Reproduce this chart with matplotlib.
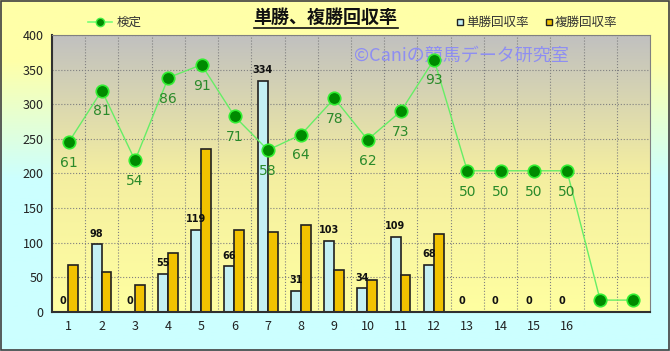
import matplotlib.pyplot as plt
import numpy as np
from matplotlib.lines import Line2D
from matplotlib.colors import LinearSegmentedColormap

plt.rcParams['font.family'] = ['Noto Sans CJK JP', 'DejaVu Sans']

# data
cats = [str(i) for i in range(1, 17)] + ['', '']
tansho = [0, 98, 0, 55, 119, 66, 334, 31, 103, 34, 109, 68, 0, 0, 0, 0, None, None]
fukusho = [68, 58, 39, 85, 235, 118, 116, 126, 60, 46, 53, 113, 0, 0, 0, 0, None, None]
kentei = [61, 81, 54, 86, 91, 71, 58, 64, 78, 62, 73, 93, 50, 50, 50, 50, 0, 0]
kentei_labels = [str(v) for v in kentei[:16]] + ['', '']

W, H = 670, 351
fig = plt.figure(figsize=(W / 100, H / 100), dpi=100)

# figure background gradient (yellow top -> cyan bottom)
bg = fig.add_axes([0, 0, 1, 1], zorder=-10)
bg_cmap = LinearSegmentedColormap.from_list(
    'bg', [(0, '#ccffff'), (0.49, '#ccffff'), (0.83, '#ffffa8'), (1, '#ffffa8')])
bg.imshow(np.linspace(0, 1, 256).reshape(-1, 1)[::-1], cmap=bg_cmap, aspect='auto',
          extent=[0, 1, 0, 1], origin='upper')
bg.axis('off')
bg.add_patch(plt.Rectangle((0.001, 0.002), 0.997, 0.995, fill=False, ec='#404040', lw=1.2,
                           transform=bg.transAxes))

ax = fig.add_axes([52 / W, 1 - 312 / H, 598 / W, 277 / H])
x = np.arange(1, len(cats) + 1)
ax.set_xlim(0.5, len(cats) + 0.5)
ax.set_ylim(0, 400)

# plot area gradient (gray top -> light yellow bottom)
pa_cmap = LinearSegmentedColormap.from_list('pa', ['#ffffa0', '#f4eea0', '#c0c0c0'])
ax.imshow(np.linspace(0, 1, 256).reshape(-1, 1)[::-1], cmap=pa_cmap, aspect='auto',
          extent=[0.5, len(cats) + 0.5, 0, 400], origin='upper', zorder=0)

ax.set_axisbelow(True)
ax.set_yticks(np.arange(0, 401, 50))
ax.set_xticks(x)
ax.set_xticklabels(cats)
ax.set_xticks(np.arange(1.5, len(cats), 1), minor=True)
ax.grid(True, which='minor', axis='x', color='#808080', ls=':', lw=0.8)
ax.grid(True, which='major', axis='y', color='#808080', ls=':', lw=0.8)
ax.tick_params(length=0, labelsize=9, colors='#222222', pad=6)
ax.tick_params(which='minor', length=0)
for s in ['top', 'right']:
    ax.spines[s].set_color('#808080')
    ax.spines[s].set_linewidth(0.8)
for s in ['left', 'bottom']:
    ax.spines[s].set_color('#303030')
    ax.spines[s].set_linewidth(1.5)

n = 16
bw = 0.3
ax.bar(x[:n] - 0.16, tansho[:n], bw, color='#c4f0f4', edgecolor='#202020', lw=1.2, zorder=2)
ax.bar(x[:n] + 0.14, fukusho[:n], bw, color='#f2c200', edgecolor='#202020', lw=1.2, zorder=2)
for xi, v in zip(x[:n], tansho[:n]):
    ax.annotate(str(v), (xi - 0.16, v), xytext=(0, 4), textcoords='offset points',
                ha='center', va='bottom', fontsize=7, fontweight='bold', color='#111111',
                family='DejaVu Sans')

# watermark
ax.text(0.684, 0.925, '©Caniの競馬データ研究室', transform=ax.transAxes, ha='center',
        va='center', fontsize=13, color='#8e8ef2', zorder=1)

ax2 = ax.twinx()
ax2.set_ylim(-4.6, 102.5)
ax2.set_yticks([])
for s in ax2.spines.values():
    s.set_visible(False)
ax2.plot(x, kentei, color='#66ee66', lw=1, marker='o', ms=9, mfc='#008a00', mec='#33ee33',
         mew=1.2, zorder=3)
for xi, v, lab in zip(x, kentei, kentei_labels):
    if lab:
        ax2.annotate(lab, (xi, v), xytext=(0, -15), textcoords='offset points', ha='center',
                     va='center', fontsize=10, color='#2a8a2a', family='DejaVu Sans')

# title with underline
fig.text(325 / W, 1 - 17 / H, '単勝、複勝回収率', ha='center', va='center', fontsize=13,
         fontweight='bold', color='#111111')
fig.add_artist(Line2D([254 / W, 398 / W], [1 - 28 / H, 1 - 28 / H], color='#111111', lw=1.2))

# legends
yl = 1 - 22 / H
fig.add_artist(Line2D([88 / W, 112 / W], [yl, yl], color='#77ff77', lw=1.2))
fig.add_artist(Line2D([100 / W], [yl], marker='o', ms=6, mfc='#008a00', mec='#44ee44', ls='none'))
fig.text(117 / W, yl, '検定', ha='left', va='center', fontsize=9, color='#333333')
fig.add_artist(Line2D([460 / W], [yl], marker='s', ms=5, mfc='#c4f0f4', mec='#202020', ls='none'))
fig.text(466 / W, yl, '単勝回収率', ha='left', va='center', fontsize=9, color='#333333')
fig.add_artist(Line2D([549 / W], [yl], marker='s', ms=5, mfc='#f2c200', mec='#202020', ls='none'))
fig.text(555 / W, yl, '複勝回収率', ha='left', va='center', fontsize=9, color='#333333')

fig.savefig('out.png', dpi=100)
